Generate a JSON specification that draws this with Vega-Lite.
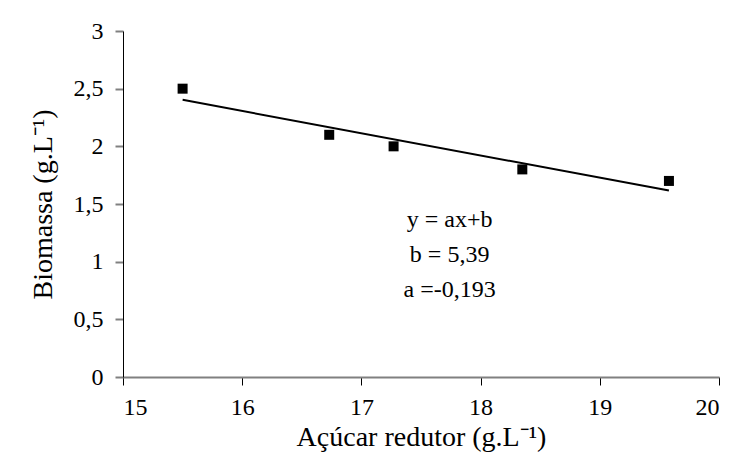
{
  "$schema": "https://vega.github.io/schema/vega-lite/v6.json",
  "width": 596,
  "height": 346,
  "autosize": {"type": "none"},
  "padding": {"left": 123, "top": 31, "right": 30, "bottom": 89},
  "background": "white",
  "config": {
    "view": {"stroke": null},
    "font": "'Liberation Serif', 'Times New Roman', Times, serif"
  },
  "datasets": {
    "pts": [
      {"acucar": 15.5, "biomassa": 2.5},
      {"acucar": 16.73, "biomassa": 2.1},
      {"acucar": 17.27, "biomassa": 2.0},
      {"acucar": 18.35, "biomassa": 1.8},
      {"acucar": 19.58, "biomassa": 1.7}
    ],
    "notes": [
      {"acucar": 17.74, "biomassa": 1.36, "label": "y = ax+b\nb = 5,39\na =-0,193"}
    ]
  },
  "layer": [
    {
      "data": {"name": "pts"},
      "mark": {"type": "point", "shape": "square", "filled": true, "color": "black", "size": 100, "opacity": 1},
      "encoding": {
        "x": {
          "field": "acucar", "type": "quantitative",
          "scale": {"domain": [15, 20], "nice": false, "zero": false},
          "axis": {
            "values": [15, 16, 17, 18, 19, 20],
            "format": "~g",
            "grid": false,
            "domainColor": "#808080", "domainWidth": 2,
            "tickColor": "black", "tickSize": 8, "tickWidth": 1,
            "labelFont": "'Liberation Serif', 'Times New Roman', Times, serif", "labelFontSize": 24, "labelColor": "black", "labelPadding": 10,
            "title": "Açúcar redutor (g.L⁻¹)",
            "titleFont": "'Liberation Serif', 'Times New Roman', Times, serif", "titleFontSize": 28, "titleFontWeight": "normal", "titleColor": "black", "titlePadding": 4
          }
        },
        "y": {
          "field": "biomassa", "type": "quantitative",
          "scale": {"domain": [0, 3], "nice": false},
          "axis": {
            "values": [0, 0.5, 1, 1.5, 2, 2.5, 3],
            "format": "~g",
            "labelExpr": "replace(datum.label, '.', ',')",
            "grid": false,
            "domainColor": "black", "domainWidth": 1,
            "tickColor": "#808080", "tickSize": 8, "tickWidth": 2,
            "labelFont": "'Liberation Serif', 'Times New Roman', Times, serif", "labelFontSize": 24, "labelColor": "black", "labelPadding": 12,
            "title": "Biomassa (g.L⁻¹)",
            "titleFont": "'Liberation Serif', 'Times New Roman', Times, serif", "titleFontSize": 28, "titleFontWeight": "normal", "titleColor": "black", "titlePadding": 16
          }
        }
      }
    },
    {
      "data": {"name": "pts"},
      "transform": [{"regression": "biomassa", "on": "acucar"}],
      "mark": {"type": "line", "color": "black", "strokeWidth": 2},
      "encoding": {
        "x": {"field": "acucar", "type": "quantitative"},
        "y": {"field": "biomassa", "type": "quantitative"}
      }
    },
    {
      "data": {"name": "notes"},
      "mark": {"type": "text", "font": "'Liberation Serif', 'Times New Roman', Times, serif", "fontSize": 24, "color": "black", "align": "center", "baseline": "middle", "lineBreak": "\n", "lineHeight": 35},
      "encoding": {
        "x": {"field": "acucar", "type": "quantitative"},
        "y": {"field": "biomassa", "type": "quantitative"},
        "text": {"field": "label"}
      }
    }
  ]
}
